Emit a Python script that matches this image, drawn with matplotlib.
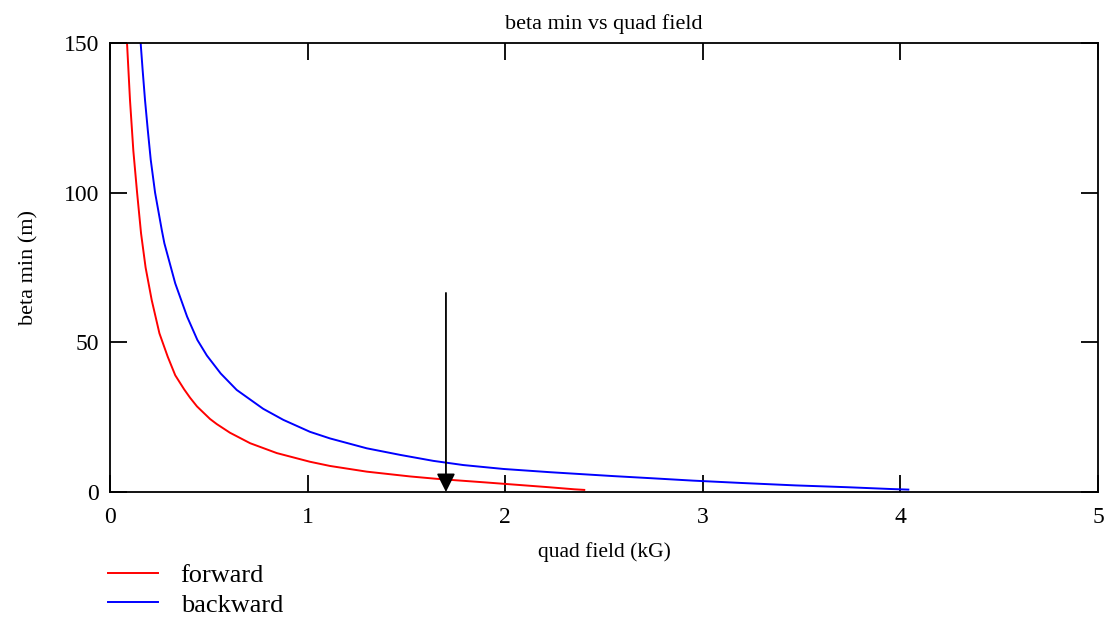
import numpy as np
import matplotlib
matplotlib.use('Agg')
import matplotlib.pyplot as plt

# values
fwd_field = [0.086, 0.101, 0.118, 0.137, 0.157, 0.180, 0.211, 0.250, 0.292, 0.330,
             0.375, 0.405, 0.440, 0.506, 0.540, 0.607, 0.709, 0.844, 1.012, 1.113,
             1.299, 1.518, 1.653, 1.754, 1.90, 2.06, 2.22, 2.35, 2.40]
fwd_beta = [150, 131, 114, 100, 86.4, 75.0, 64.1, 53.0, 45.2, 39.0,
            34.3, 31.5, 28.6, 24.4, 22.7, 19.8, 16.3, 13.0, 10.1, 8.7,
            6.8, 5.2, 4.4, 3.9, 3.2, 2.4, 1.6, 0.9, 0.7]

bwd_field = [0.155, 0.165, 0.177, 0.191, 0.206, 0.228, 0.262, 0.275, 0.330, 0.390,
             0.442, 0.490, 0.560, 0.641, 0.775, 0.877, 1.012, 1.113, 1.299,
             1.468, 1.636, 1.788, 1.99, 2.23, 2.55, 2.74, 2.95, 3.20, 3.47,
             3.73, 3.95, 4.04]
bwd_beta = [150, 141, 131, 121, 111, 100, 87.5, 83.1, 69.7, 58.6,
            50.8, 45.6, 39.6, 34.1, 27.8, 24.1, 20.1, 17.9, 14.6,
            12.4, 10.4, 9.0, 7.7, 6.6, 5.3, 4.6, 3.8, 3.0, 2.2,
            1.6, 1.0, 0.8]

marker_field = 1.70
marker_top = 66.5

x_ticks = [0, 1, 2, 3, 4, 5]
y_ticks = [0, 50, 100, 150]

plt.rcParams['font.family'] = ['Liberation Serif', 'DejaVu Serif']

fig = plt.figure(figsize=(11.08, 6.17), dpi=100)
ax = fig.add_axes([0.0993, 0.2026, 0.8917, 0.7277])

l1, = ax.plot(fwd_field, fwd_beta, color='red', lw=1.4)
l2, = ax.plot(bwd_field, bwd_beta, color='blue', lw=1.4)

# marker arrow at the working point
ax.annotate('', xy=(marker_field, 0), xytext=(marker_field, marker_top),
            arrowprops=dict(arrowstyle='-|>', color='black', lw=1.3,
                            mutation_scale=28, shrinkA=0, shrinkB=0))

ax.set_xlim(0, 5)
ax.set_ylim(0, 150)
ax.set_xticks(x_ticks)
ax.set_yticks(y_ticks)
ax.tick_params(direction='in', length=12, width=1.3, top=True, right=True,
               labelsize=17, pad=8)
ax.tick_params(axis='x', pad=11)
for s in ax.spines.values():
    s.set_linewidth(1.3)

ax.set_title('beta min vs quad field', fontsize=16, pad=10)
ax.set_xlabel('quad field (kG)', fontsize=15.5, labelpad=10)
ax.set_ylabel('beta min (m)', fontsize=16, labelpad=18)

fig.legend([l1, l2], ['forward', 'backward'], loc='upper left',
           bbox_to_anchor=(0.0975, 0.086), frameon=False, fontsize=19,
           handlelength=1.9, handletextpad=0.85, labelspacing=0.22,
           borderaxespad=0, borderpad=0)

fig.savefig('out.png', dpi=100)
